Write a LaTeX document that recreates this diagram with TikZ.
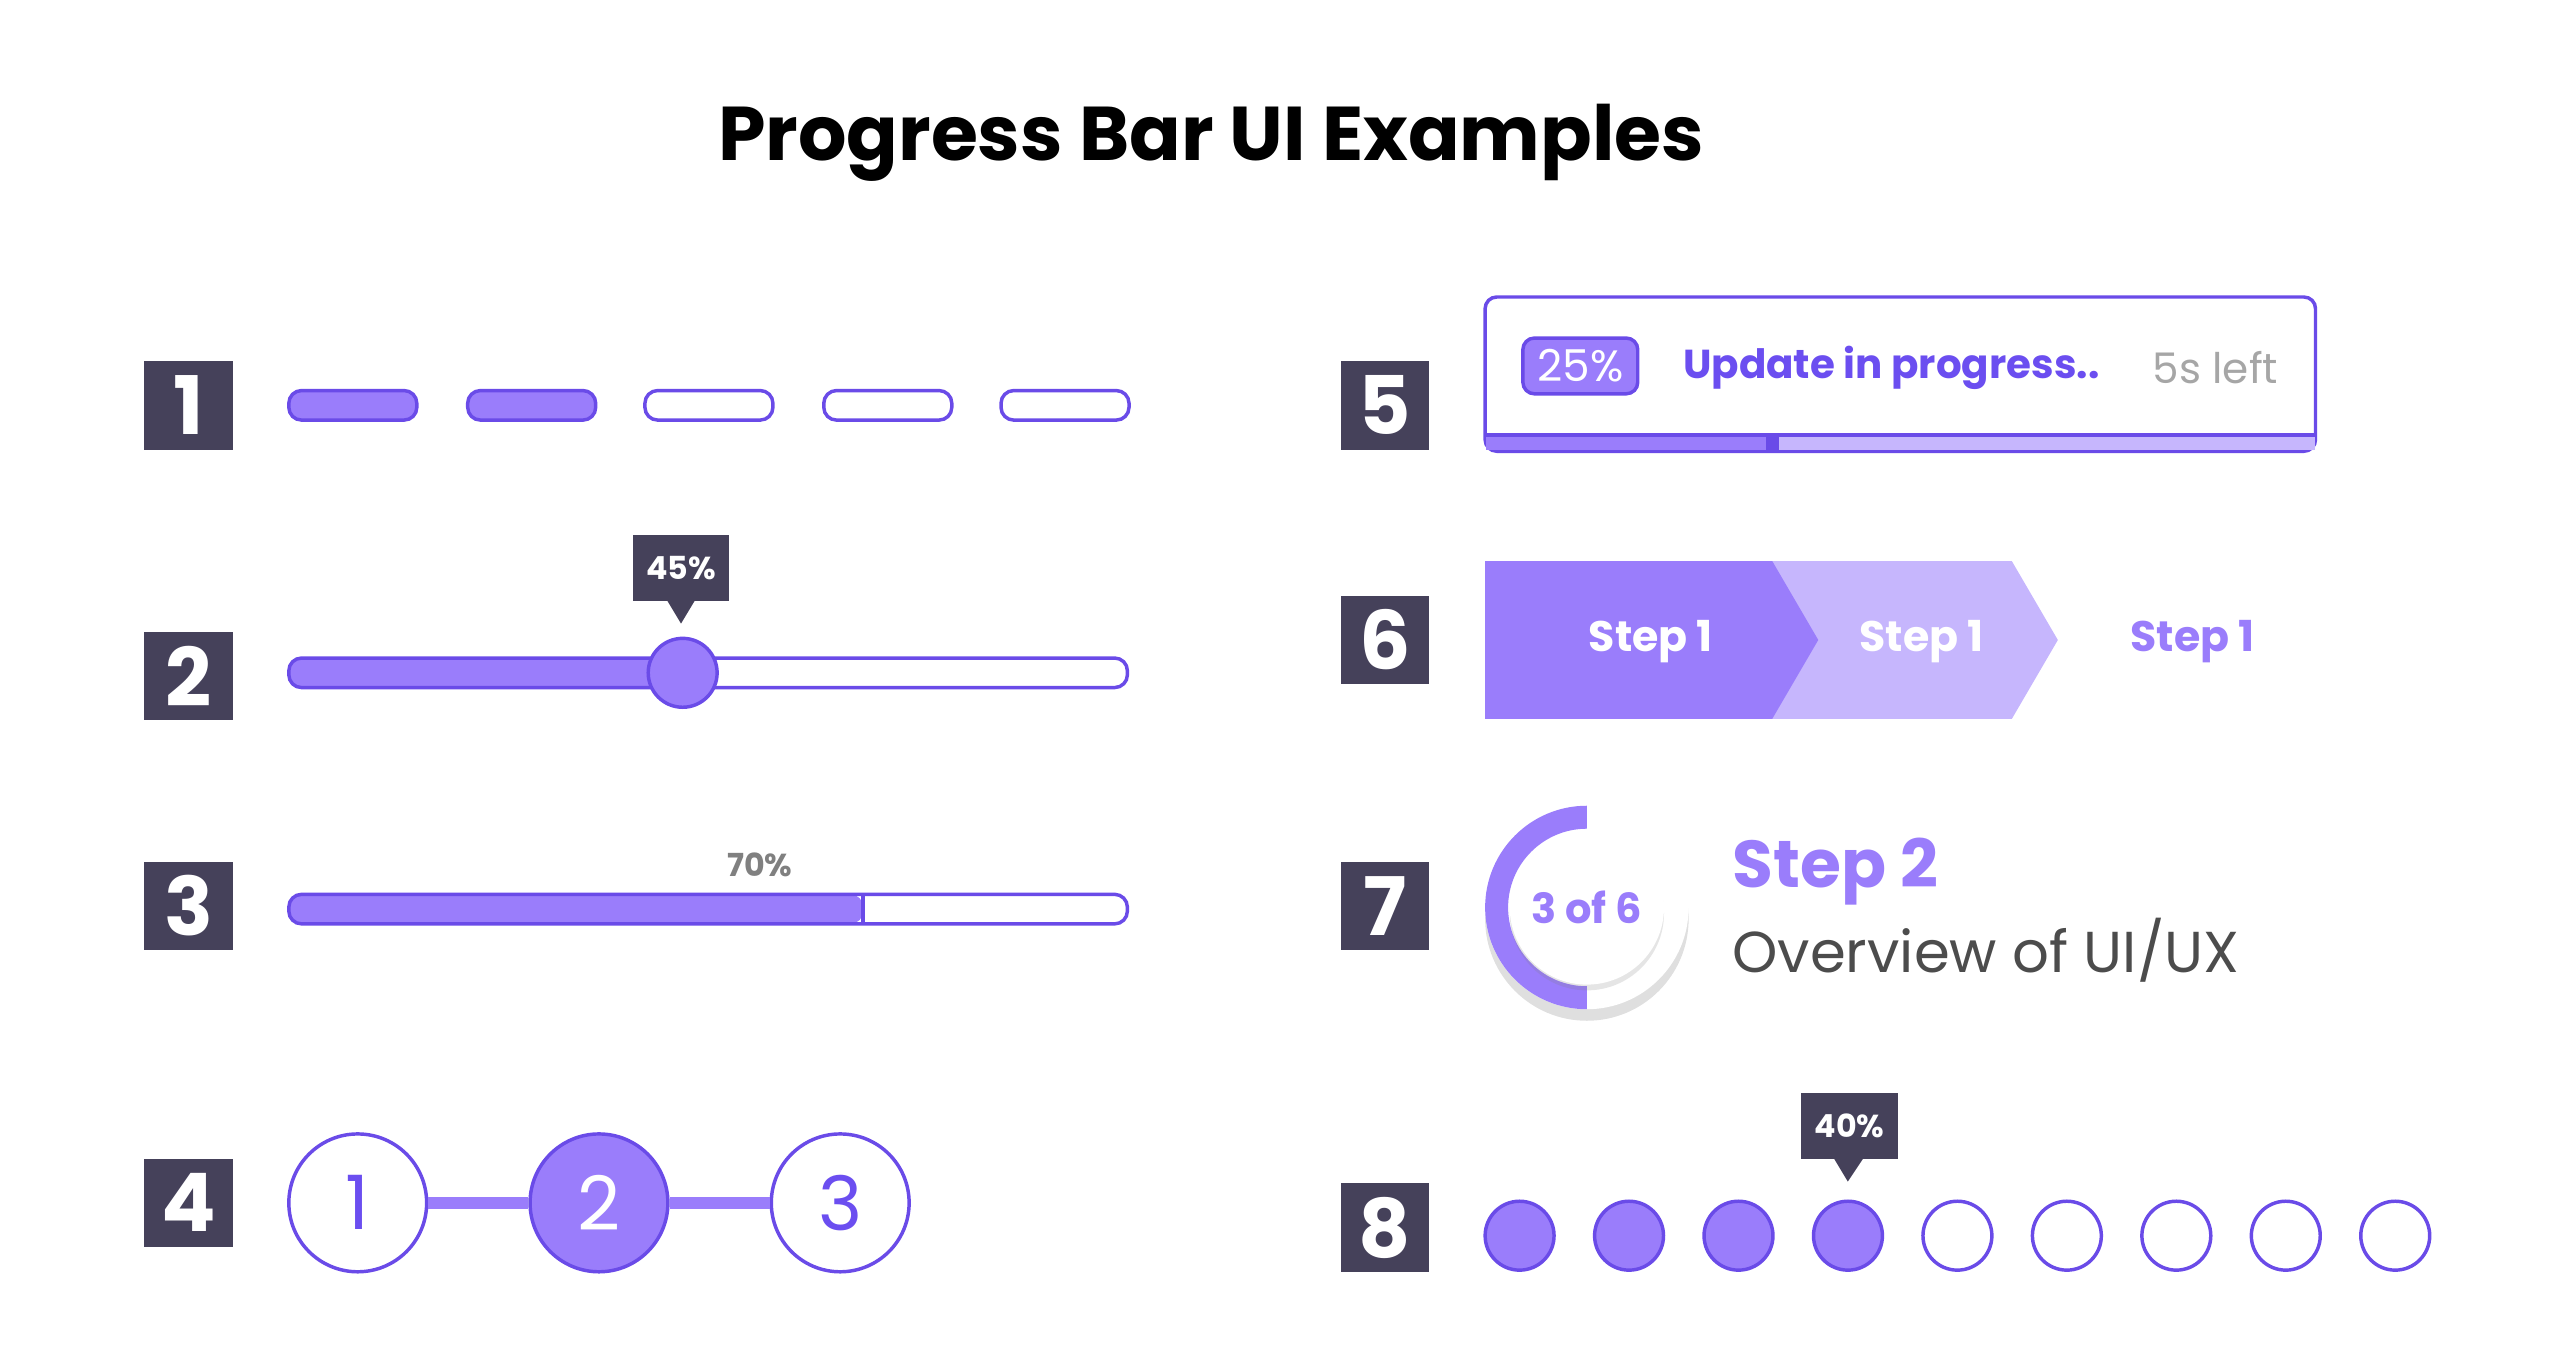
\documentclass[tikz,border=0pt]{standalone}
\usepackage{fontspec}
\setmainfont{Poppins}
\usetikzlibrary{positioning,calc,shadows}
\definecolor{pfill}{HTML}{9A7DFB}
\definecolor{pline}{HTML}{6A4BE8}
\definecolor{plight}{HTML}{C6B6FD}
\definecolor{pdark}{HTML}{6B4EF0}
\definecolor{navy}{HTML}{45415A}
\tikzset{
  numbox/.style={fill=navy,minimum size=54*0.01cm,inner sep=0pt,text=white,font=\fontsize{14}{16}\selectfont\bfseries},
  pill/.style={draw=pline,line width=0.6pt,rounded corners=2.2pt},
  dot/.style={circle,draw=pline,line width=0.6pt,fill=white,minimum size=42*0.01cm,inner sep=0pt},
  tip/.style={fill=navy,text=white,minimum width=59*0.01cm,minimum height=40*0.01cm,inner sep=0pt,font=\fontsize{5.5}{7}\selectfont\bfseries},
  bigdot/.style={circle,draw=pline,line width=0.6pt,minimum size=84*0.01cm,inner sep=0pt,font=\fontsize{13}{15}\selectfont},
}
\begin{document}
\begin{tikzpicture}[x=0.01cm,y=-0.01cm]
\useasboundingbox (0,0) rectangle (1560,825);
\node[font=\fontsize{13.2}{16}\selectfont\bfseries] (title) at (738,87) {Progress Bar UI Examples};
% number boxes
\foreach \n/\x/\y in {1/115/247,2/115/412,3/115/552,4/115/733,5/844/247,6/844/390,7/844/552,8/844/748}
  \node[numbox] (num\n) at (\x,\y) {\n};
% 1
\foreach \i/\x in {1/176,2/285,3/393,4/502,5/610}{
  \ifnum\i<3 \draw[pill,fill=pfill] (\x,238) rectangle ++(78,18);
  \else \draw[pill] (\x,238) rectangle ++(78,18); \fi}
% 2
\fill[pfill,rounded corners=2.2pt] (176,401) rectangle (416,419);
\draw[pill] (176,401) rectangle (687,419);
\node[circle,fill=pfill,draw=pline,line width=0.6pt,minimum size=42*0.01cm,inner sep=0pt] (knob) at (416,410) {};
\node[tip] (tipa) at (415,346) {45\%};
\fill[navy] (406,365) -- (424,365) -- (415,380) -- cycle;
% 3
\fill[pfill,rounded corners=2.2pt] (176,545) rectangle (526,563);
\draw[pline,line width=0.6pt] (526,545) -- (526,563);
\draw[pill] (176,545) rectangle (687,563);
\node[text=gray,font=\fontsize{5.5}{7}\selectfont\bfseries] (lab70) at (463,527) {70\%};
% 4
\node[bigdot,fill=white,text=pdark] (sa) at (218,733) {1};
\node[bigdot,fill=pfill,text=white] (sb) at (365,733) {2};
\node[bigdot,fill=white,text=pdark] (sc) at (512,733) {3};
\draw[pfill,line width=2.2pt] (sa) -- (sb);
\draw[pfill,line width=2.2pt] (sb) -- (sc);
% 5
\draw[pline,line width=0.6pt,rounded corners=2pt] (905,181) rectangle (1411,275);
\fill[plight] (905.5,265) rectangle (1410.5,274.5);
\fill[pfill] (905.5,265) rectangle (1080,274.5);
\fill[pline] (1076,265) rectangle (1084,274.5);
\draw[pline,line width=0.6pt] (905,265) -- (1411,265);
\node[fill=pfill,draw=pline,line width=0.6pt,rounded corners=2pt,minimum width=70*0.01cm,minimum height=34*0.01cm,inner sep=0pt,text=white,font=\fontsize{7.6}{10}\selectfont] (badge) at (963,223) {25\%};
\node[anchor=west,inner sep=0pt,text=pdark,font=\fontsize{7}{10}\selectfont\bfseries] (upd) at (1025,224) {Update in progress..};
\node[anchor=east,inner sep=0pt,text=gray!70,font=\fontsize{7.3}{10}\selectfont] (left) at (1389,224) {5s left};
% 6
\fill[plight] (1060,342) -- (1226,342) -- (1254,390) -- (1226,438) -- (1060,438) -- cycle;
\fill[pfill] (905,342) -- (1080,342) -- (1108,390) -- (1080,438) -- (905,438) -- cycle;
\node[text=white,font=\fontsize{7.4}{10}\selectfont\bfseries] (stepa) at (1006,391) {Step 1};
\node[text=white,font=\fontsize{7.4}{10}\selectfont\bfseries] (stepb) at (1171,391) {Step 1};
\node[text=pfill,font=\fontsize{7.4}{10}\selectfont\bfseries] (stepc) at (1336,391) {Step 1};
% 7
\fill[white,drop shadow={opacity=0.25,shadow xshift=0pt,shadow yshift=-2pt}] (967,553) circle (62);
\fill[pfill] (967,491) arc (270:90:62) -- (967,601) arc (90:270:48) -- cycle;
\fill[white,drop shadow={opacity=0.2,shadow xshift=0pt,shadow yshift=-1pt}] (967,553) circle (47);
\node[text=pfill,font=\fontsize{7.2}{10}\selectfont\bfseries] (ring) at (967,553) {3 of 6};
\node[anchor=west,inner sep=0pt,text=pfill,font=\fontsize{11.5}{14}\selectfont\bfseries] (steptwo) at (1055,531) {Step 2};
\node[anchor=west,inner sep=0pt,text=black!70,font=\fontsize{10}{13}\selectfont] (ovw) at (1055,579) {Overview of UI/UX};
% 8
\foreach \i in {0,...,8}{
  \pgfmathsetmacro\xx{926+66.7*\i}
  \ifnum\i<4 \node[dot,fill=pfill] (d\i) at (\xx,753) {};
  \else \node[dot] (d\i) at (\xx,753) {}; \fi}
\node[tip] (tipb) at (1127,686) {40\%};
\fill[navy] (1117,705) -- (1136,705) -- (1126,720) -- cycle;
\end{tikzpicture}
\end{document}
